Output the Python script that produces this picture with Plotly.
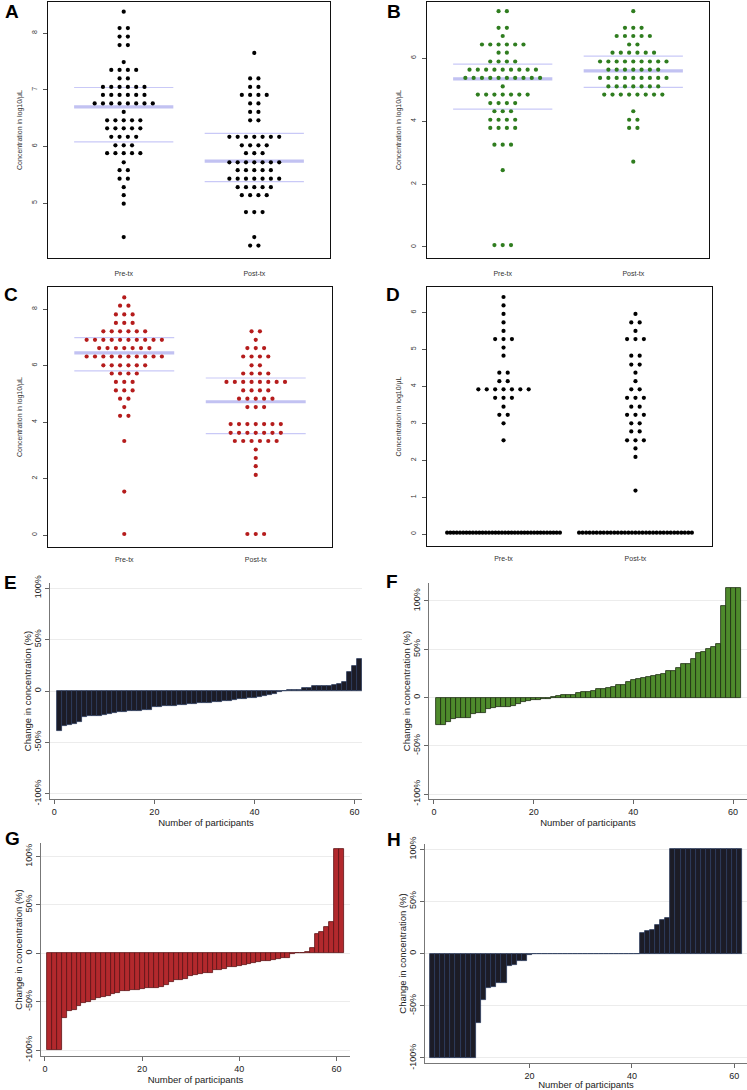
import plotly.graph_objects as go
import numpy as np

W, H = 747, 1090
FONT = "Arial, Liberation Sans, sans-serif"

# ---------------- Dot-plot data (log10/uL), rows of identical values ----------------
a_pre_levels = [8.38, 8.09, 7.94, 7.79, 7.49, 7.35, 7.20, 7.05, 6.91, 6.76, 6.61, 6.46, 6.32, 6.17, 6.02, 5.88, 5.72, 5.58, 5.43, 5.28, 5.14, 4.99, 4.40]
a_pre_counts = [1, 2, 2, 2, 1, 4, 2, 6, 6, 8, 1, 5, 5, 4, 3, 5, 1, 2, 2, 1, 1, 1, 1]
a_post_levels = [7.65, 7.20, 7.05, 6.91, 6.76, 6.61, 6.46, 6.17, 6.02, 5.88, 5.72, 5.58, 5.43, 5.28, 5.14, 4.84, 4.40, 4.25]
a_post_counts = [1, 2, 2, 4, 2, 2, 2, 7, 4, 3, 7, 5, 7, 5, 4, 3, 1, 2]
a_pre_quart = [6.08, 6.70, 7.04]
a_post_quart = [5.38, 5.74, 6.23]

b_pre_levels = [7.49, 6.96, 6.70, 6.43, 6.17, 5.89, 5.63, 5.37, 5.10, 4.84, 4.57, 4.31, 4.04, 3.78, 3.25, 2.44, 0.06]
b_pre_counts = [2, 2, 1, 6, 2, 4, 9, 10, 1, 7, 4, 3, 4, 4, 3, 1, 3]
b_post_levels = [7.49, 6.96, 6.70, 6.43, 6.17, 5.89, 5.63, 5.37, 5.10, 4.84, 4.31, 4.04, 3.78, 2.71]
b_post_counts = [1, 3, 5, 2, 6, 9, 7, 9, 7, 8, 1, 2, 2, 1]
b_pre_quart = [4.38, 5.34, 5.81]
b_post_quart = [5.07, 5.59, 6.06]

c_pre_levels = [8.41, 8.12, 7.81, 7.51, 7.21, 6.91, 6.62, 6.32, 6.01, 5.72, 5.42, 5.12, 4.83, 4.53, 4.22, 3.33, 1.54, 0.04]
c_pre_counts = [1, 2, 3, 3, 6, 10, 7, 10, 6, 4, 3, 3, 2, 1, 2, 1, 1, 1]
c_post_levels = [7.21, 6.91, 6.62, 6.32, 6.01, 5.72, 5.42, 5.12, 4.83, 4.53, 3.93, 3.62, 3.33, 3.03, 2.73, 2.44, 2.13, 0.04]
c_post_counts = [2, 1, 3, 4, 2, 4, 8, 4, 5, 3, 7, 7, 6, 1, 1, 1, 1, 3]
c_pre_quart = [5.81, 6.45, 6.99]
c_post_quart = [3.59, 4.72, 5.56]

d_pre_levels = [6.42, 6.19, 5.96, 5.73, 5.50, 5.28, 5.05, 4.83, 4.37, 4.14, 3.92, 3.69, 3.45, 3.23, 3.00, 2.54, 0.04]
d_pre_counts = [1, 1, 1, 1, 1, 3, 1, 1, 2, 2, 7, 3, 1, 2, 1, 1, 36]
d_post_levels = [5.96, 5.73, 5.50, 5.28, 4.83, 4.59, 4.37, 4.14, 3.92, 3.69, 3.45, 3.23, 3.00, 2.78, 2.54, 2.32, 2.09, 1.18, 0.04]
d_post_counts = [1, 2, 1, 3, 2, 2, 1, 1, 2, 3, 2, 3, 2, 2, 3, 1, 1, 1, 33]

groups = ["Pre-tx", "Post-tx"]

# ---------------- Waterfall data (% change, sorted) ----------------
e_change = [-39, -34, -33, -32, -30, -25, -24.5, -24, -24, -23,
            -22.5, -21, -20.5, -20, -19.5, -19, -19, -18.5, -18, -16,
            -15.5, -15, -15, -14.5, -14, -13.5, -13, -12.5, -12, -12,
            -11.5, -11, -10.5, -10, -9.5, -8.5, -8, -7.5, -7, -6.5,
            -6, -5, -4, -2.5, -0.8, 0.3, 0.5, 0.8, 1.0, 2.5,
            2.8, 4.5, 4.8, 5.0, 5.3, 5.8, 6.5, 9, 18, 24, 31]
f_change = [-28.5, -28.5, -25.5, -22, -21, -21, -21, -17, -15.5, -15.5,
            -12, -11, -9.5, -9.5, -9.5, -9, -6.5, -4.5, -3.5, -2.5,
            -2, -1.5, -1, 0.5, 2, 2.2, 2.5, 3, 4.5, 6,
            6.2, 7.3, 8.5, 8.7, 9.5, 11, 12.5, 13, 16.5, 18,
            19, 20, 21, 22, 23.5, 24.5, 27, 28, 30.5, 34.5,
            34.5, 40, 46.5, 47.5, 50, 52, 55, 95, 113, 113, 113]
g_change = [-100, -100, -100, -66.7, -59, -58, -54, -51, -50, -48.6,
            -46, -44.6, -44, -42, -40.5, -39, -38.4, -38, -37.4, -36.7,
            -36, -35.7, -35.4, -34.4, -32.3, -29.3, -28, -27, -26, -23,
            -22, -21.8, -20.4, -20, -17, -16.7, -16, -14.3, -13.6, -13,
            -12, -11, -10, -8.5, -7.8, -7.5, -7.1, -6, -4.8, -4.4,
            -0.5, 0.2, 0.5, 1.5, 6, 20, 22.5, 27, 32, 108, 108]
h_change = [-100, -100, -100, -100, -100, -100, -100, -100, -100, -66,
            -44, -33, -31.7, -28.5, -28, -12, -11, -7, -6.7, -1.3,
            0, 0, 0, 0, 0, 0, 0, 0, 0, 0,
            0, 0, 0, 0, 0, 0, 0, 0, 0, 0,
            0, 20.2, 21.5, 22.5, 27, 32, 34.5, 100, 100, 100,
            100, 100, 100, 100, 100, 100, 100, 100, 100, 100, 100]
participants = list(range(1, len(e_change) + 1))

pct_ticks = [-100, -50, 0, 50, 100]
pct_text = ["-100%", "-50%", "0", "50%", "100%"]

fig = go.Figure()


def xdom(p0, p1):
    return [p0 / W, p1 / W]


def ydom(p0, p1):
    return [1 - p1 / H, 1 - p0 / H]


def dot_xy(levels, counts, center, base=0.0636, maxw=0.855):
    vals = np.repeat(levels, counts)
    xs, ys = [], []
    i0 = 0
    for lv, n in zip(levels, counts):
        sp = base if n <= 1 else min(base, maxw / (n - 1))
        for i in range(n):
            xs.append(center + (i - (n - 1) / 2) * sp)
            ys.append(vals[i0 + i])
        i0 += n
    return xs, ys


dot_panels = [
    dict(label="A", data=[(a_pre_levels, a_pre_counts), (a_post_levels, a_post_counts)],
         quart=[a_pre_quart, a_post_quart], color="#000000",
         xd=(48, 330), yd=(2, 258), yr=(4.03, 8.55), ticks=[5, 6, 7, 8], lab=(3, 11.5), xso=8),
    dict(label="B", data=[(b_pre_levels, b_pre_counts), (b_post_levels, b_post_counts)],
         quart=[b_pre_quart, b_post_quart], color="#2f7d1f",
         xd=(427, 709), yd=(2, 258), yr=(-0.35, 7.78), ticks=[0, 2, 4, 6], lab=(385, 11.5), xso=8),
    dict(label="C", data=[(c_pre_levels, c_pre_counts), (c_post_levels, c_post_counts)],
         quart=[c_pre_quart, c_post_quart], color="#b51c1c",
         xd=(48, 332), yd=(287, 547), yr=(-0.42, 8.78), ticks=[0, 2, 4, 6, 8], lab=(2, 294.5), xso=5),
    dict(label="D", data=[(d_pre_levels, d_pre_counts), (d_post_levels, d_post_counts)],
         quart=None, color="#000000",
         xd=(427, 712), yd=(287, 546), yr=(-0.32, 6.69), ticks=[0, 1, 2, 3, 4, 5, 6], lab=(384, 294), xso=5),
]

bar_panels = [
    dict(label="E", vals=e_change, fill="#1c1c26", edge="#2c3b5c",
         xd=(50, 362), yd=(583, 799), xr=(-0.86, 61.5), yr=(-105, 105),
         xt=[0, 20, 40, 60], lab=(2, 582), tso=0),
    dict(label="F", vals=f_change, fill="#4e8a2c", edge="#1a2b10",
         xd=(429, 747), yd=(583, 799), xr=(-1.0, 62.8), yr=(-105, 118.6),
         xt=[0, 20, 40, 60], lab=(384, 581), tso=0),
    dict(label="G", vals=g_change, fill="#b2292d", edge="#5e1315",
         xd=(41, 350), yd=(843, 1056), xr=(-0.82, 62.8), yr=(-106, 114),
         xt=[0, 20, 40, 60], lab=(3, 838.5), tso=0),
    dict(label="H", vals=h_change, fill="#1c1c26", edge="#2c3b5c",
         xd=(425, 747), yd=(844, 1063), xr=(-0.45, 62.5), yr=(-104.8, 105),
         xt=[20, 40, 60], lab=(385, 839), tso=2),
]

layout = dict(width=W, height=H, margin=dict(l=0, r=0, t=0, b=0, pad=0, autoexpand=False),
              paper_bgcolor="white", plot_bgcolor="white", showlegend=False,
              font=dict(family=FONT, color="#222"))
annotations = []


def add_label(text, px, py):
    annotations.append(dict(text=f"<b>{text}</b>", xref="paper", yref="paper",
                            x=px / W, y=1 - py / H, xanchor="left", yanchor="middle",
                            showarrow=False, font=dict(size=19, color="black", family=FONT)))


idx = 0
for p in dot_panels:
    idx += 1
    xa = "x" if idx == 1 else f"x{idx}"
    ya = "y" if idx == 1 else f"y{idx}"
    xk = "xaxis" if idx == 1 else f"xaxis{idx}"
    yk = "yaxis" if idx == 1 else f"yaxis{idx}"
    # median / quartile lines
    if p["quart"] is not None:
        for gi, q in enumerate(p["quart"]):
            c = gi + 1
            for k, v in enumerate(q):
                fig.add_trace(go.Scatter(
                    x=[c - 0.38, c + 0.38], y=[v, v], mode="lines", xaxis=xa, yaxis=ya,
                    line=dict(color="#c9c9f7" if k != 1 else "#c2c2f2", width=1.2 if k != 1 else 3.2),
                    hoverinfo="skip"))
    for gi, (lv, ct) in enumerate(p["data"]):
        xs, ys = dot_xy(lv, ct, gi + 1)
        fig.add_trace(go.Scatter(x=xs, y=ys, mode="markers", xaxis=xa, yaxis=ya,
                                 marker=dict(color=p["color"], size=4.2, line=dict(width=0))))
    layout[xk] = dict(domain=xdom(*p["xd"]), anchor=ya, range=[0.42, 2.58],
                      tickvals=[1, 2], ticktext=groups, ticks="", showgrid=False, zeroline=False,
                      showline=True, mirror=True, linecolor="#111", linewidth=1.3,
                      tickfont=dict(size=7, color="#333"), ticklabelstandoff=p["xso"])
    layout[yk] = dict(domain=ydom(*p["yd"]), anchor=xa, range=list(p["yr"]),
                      tickvals=p["ticks"], ticks="outside", ticklen=4, tickwidth=0.8, tickcolor="#555",
                      tickangle=-90, showgrid=False, zeroline=False, ticklabelstandoff=3,
                      showline=True, mirror=True, linecolor="#111", linewidth=1.3,
                      tickfont=dict(size=7, color="#333"),
                      title=dict(text="Concentration in log10/\u03bcL", font=dict(size=7, color="#333"), standoff=7))
    add_label(p["label"], *p["lab"])

for p in bar_panels:
    idx += 1
    xa, ya = f"x{idx}", f"y{idx}"
    xk, yk = f"xaxis{idx}", f"yaxis{idx}"
    fig.add_trace(go.Bar(x=participants, y=p["vals"], width=1, xaxis=xa, yaxis=ya,
                         marker=dict(color=p["fill"], line=dict(color=p["edge"], width=0.8))))
    layout[xk] = dict(domain=xdom(*p["xd"]), anchor=ya, range=list(p["xr"]),
                      tickvals=p["xt"], ticks="outside", ticklen=4, tickcolor="#666",
                      showgrid=False, zeroline=False, showline=True, linecolor="#777", linewidth=1,
                      tickfont=dict(size=9, color="#222"),
                      title=dict(text="Number of participants", font=dict(size=9.5, color="#222"), standoff=p["tso"]))
    layout[yk] = dict(domain=ydom(*p["yd"]), anchor=xa, range=list(p["yr"]),
                      tickvals=pct_ticks, ticktext=pct_text, ticks="outside", ticklen=4, tickcolor="#666",
                      tickangle=-90, showgrid=True, gridcolor="#ececec", gridwidth=1, zeroline=False,
                      showline=True, linecolor="#777", linewidth=1,
                      tickfont=dict(size=9, color="#222"),
                      title=dict(text="Change in concentration (%)", font=dict(size=9.5, color="#222"), standoff=0))
    add_label(p["label"], *p["lab"])

layout["annotations"] = annotations
layout["bargap"] = 0
fig.update_layout(**layout)
fig.write_html(
    "out.html", config={"displayModeBar": False},
    post_script=("var gd=document.getElementById('{plot_id}');"
                 "document.documentElement.style.margin='0';document.documentElement.style.overflow='hidden';"
                 "document.body.style.margin='0';document.body.style.padding='0';document.body.style.overflow='hidden';"
                 "gd.style.position='absolute';gd.style.top='0px';gd.style.left='0px';"))
